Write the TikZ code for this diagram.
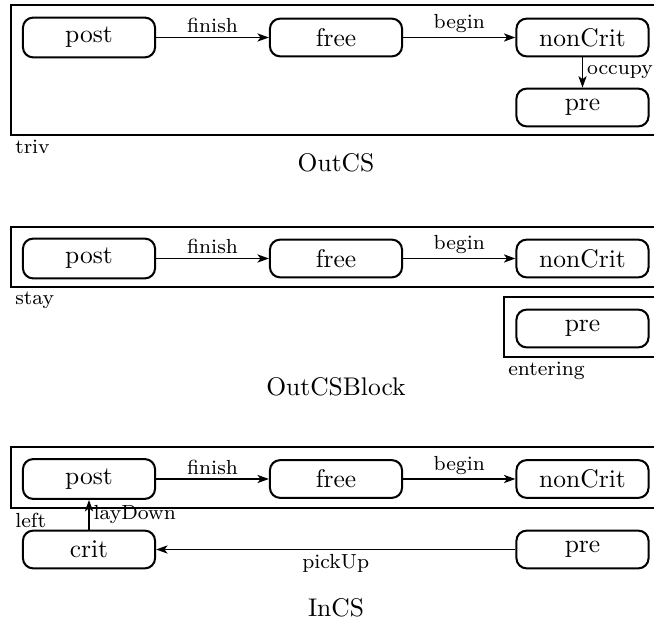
\documentclass[tikz,border=0pt]{standalone}
\usetikzlibrary{arrows.meta}
\begin{document}
\begin{tikzpicture}[x=0.392pt,y=-0.392pt,
  state/.style={draw, rounded corners=4pt, minimum width=51.8pt, minimum height=14.8pt, line width=0.8pt, inner sep=0pt},
  lbl/.style={font=\footnotesize, inner sep=1.5pt},
  frame/.style={line width=0.8pt},
  arr/.style={-{Stealth[length=4.5pt,width=3.2pt,inset=1.2pt]}, line width=0.65pt}]
\useasboundingbox (0,0) rectangle (654,624);
\clip (0,0) rectangle (654,624);
% OutCS
\draw[frame] (11,5) rectangle (700,135);
\node[state, minimum height=15.6pt] (p1) at (89,37.5) {post};
\node[state] (f1) at (336,37.5) {free};
\node[state] (n1) at (582.5,37.5) {nonCrit};
\node[state] (r1) at (582.5,107.5) {pre};
\draw[arr] (p1) -- node[lbl,above]{finish} (f1);
\draw[arr] (f1) -- node[lbl,above]{begin} (n1);
\draw[arr] (n1) -- node[lbl,right]{occupy} (r1);
\node[lbl, anchor=north west] (t1) at (11,136) {triv};
\node (c1) at (336,163) {OutCS};
% OutCSBlock
\draw[frame] (11,227) rectangle (700,287);
\draw[frame] (504,297) rectangle (700,357);
\node[state, minimum height=15.6pt] (p2) at (89,258.5) {post};
\node[state] (f2) at (336,258.5) {free};
\node[state] (n2) at (582.5,258.5) {nonCrit};
\node[state] (r2) at (582.5,328.5) {pre};
\draw[arr] (p2) -- node[lbl,above]{finish} (f2);
\draw[arr] (f2) -- node[lbl,above]{begin} (n2);
\node[lbl, anchor=north west] (t2) at (11,288) {stay};
\node[lbl, anchor=north west] (t3) at (504,358) {entering};
\node (c2) at (336,387) {OutCSBlock};
% InCS
\draw[frame] (11,447) rectangle (700,508);
\node[state, minimum height=15.6pt] (p3) at (89,479) {post};
\node[state] (f3) at (336,479) {free};
\node[state] (n3) at (582.5,479) {nonCrit};
\node[state] (k3) at (89,549.5) {crit};
\node[state] (r3) at (582.5,549.5) {pre};
\draw[arr] (p3) -- node[lbl,above]{finish} (f3);
\draw[arr] (f3) -- node[lbl,above]{begin} (n3);
\draw[arr] (k3) -- node[lbl,right]{layDown} (p3);
\draw[arr] (r3) -- node[lbl,below]{pickUp} (k3);
\node[lbl, anchor=north west] (t4) at (11,509) {left};
\node (c3) at (336,608) {InCS};
\end{tikzpicture}
\end{document}
